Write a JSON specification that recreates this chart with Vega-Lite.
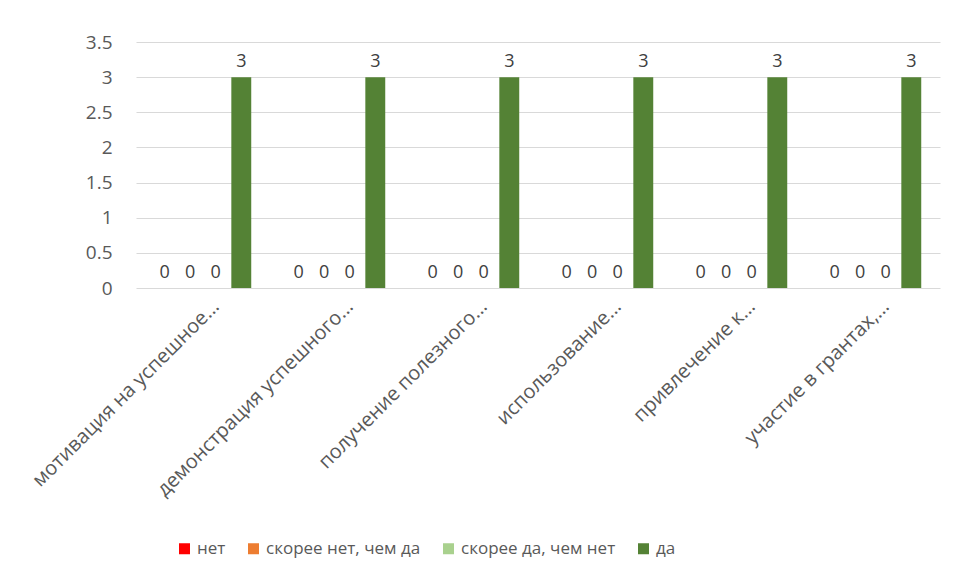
{
  "$schema": "https://vega.github.io/schema/vega-lite/v6.json",
  "width": 804,
  "height": 246,
  "autosize": {"type": "none"},
  "padding": {"left": 136, "top": 42, "right": 17, "bottom": 293},
  "background": "white",
  "config": {
    "view": {"stroke": null},
    "font": "Open Sans",
    "axis": {"labelFont": "Open Sans", "labelColor": "#595959", "labelFontSize": 19},
    "legend": {"labelFont": "Open Sans", "labelColor": "#595959", "labelFontSize": 17}
  },
  "data": {
    "values": [
      {"cat": "мотивация на успешное...", "series": "нет", "value": 0},
      {"cat": "мотивация на успешное...", "series": "скорее нет, чем да", "value": 0},
      {"cat": "мотивация на успешное...", "series": "скорее да, чем нет", "value": 0},
      {"cat": "мотивация на успешное...", "series": "да", "value": 3},
      {"cat": "демонстрация успешного...", "series": "нет", "value": 0},
      {"cat": "демонстрация успешного...", "series": "скорее нет, чем да", "value": 0},
      {"cat": "демонстрация успешного...", "series": "скорее да, чем нет", "value": 0},
      {"cat": "демонстрация успешного...", "series": "да", "value": 3},
      {"cat": "получение полезного...", "series": "нет", "value": 0},
      {"cat": "получение полезного...", "series": "скорее нет, чем да", "value": 0},
      {"cat": "получение полезного...", "series": "скорее да, чем нет", "value": 0},
      {"cat": "получение полезного...", "series": "да", "value": 3},
      {"cat": "использование...", "series": "нет", "value": 0},
      {"cat": "использование...", "series": "скорее нет, чем да", "value": 0},
      {"cat": "использование...", "series": "скорее да, чем нет", "value": 0},
      {"cat": "использование...", "series": "да", "value": 3},
      {"cat": "привлечение к...", "series": "нет", "value": 0},
      {"cat": "привлечение к...", "series": "скорее нет, чем да", "value": 0},
      {"cat": "привлечение к...", "series": "скорее да, чем нет", "value": 0},
      {"cat": "привлечение к...", "series": "да", "value": 3},
      {"cat": "участие в грантах,...", "series": "нет", "value": 0},
      {"cat": "участие в грантах,...", "series": "скорее нет, чем да", "value": 0},
      {"cat": "участие в грантах,...", "series": "скорее да, чем нет", "value": 0},
      {"cat": "участие в грантах,...", "series": "да", "value": 3}
    ]
  },
  "encoding": {
    "x": {
      "field": "cat", "type": "nominal", "sort": null, "title": null,
      "scale": {"paddingInner": 0.28, "paddingOuter": 0.14},
      "axis": {"labelAngle": -45, "labelFontSize": 20, "ticks": false, "domain": false, "labelPadding": 8, "labelLimit": 400, "labelOffset": 6}
    },
    "xOffset": {
      "field": "series", "type": "nominal",
      "sort": ["нет", "скорее нет, чем да", "скорее да, чем нет", "да"],
      "scale": {"paddingInner": 0.22}
    },
    "y": {
      "field": "value", "type": "quantitative", "title": null,
      "scale": {"domain": [0, 3.5]},
      "axis": {"values": [0, 0.5, 1, 1.5, 2, 2.5, 3, 3.5], "format": "~g", "ticks": false, "domain": false, "labelPadding": 24, "gridColor": "#d9d9d9", "gridWidth": 1}
    }
  },
  "layer": [
    {
      "mark": {"type": "bar"},
      "encoding": {
        "color": {
          "field": "series", "type": "nominal",
          "sort": ["нет", "скорее нет, чем да", "скорее да, чем нет", "да"],
          "scale": {"domain": ["нет", "скорее нет, чем да", "скорее да, чем нет", "да"], "range": ["#ff0000", "#ed7d31", "#a9d18e", "#548235"]},
          "legend": {"title": null, "orient": "none", "direction": "horizontal", "legendX": 40, "legendY": 498, "symbolType": "square", "symbolSize": 121, "symbolStrokeWidth": 0, "columnPadding": 19, "labelOffset": 4}
        }
      }
    },
    {
      "mark": {"type": "text", "baseline": "bottom", "dy": -6, "fontSize": 18, "color": "#404040"},
      "encoding": {"text": {"field": "value", "type": "quantitative"}}
    }
  ]
}
